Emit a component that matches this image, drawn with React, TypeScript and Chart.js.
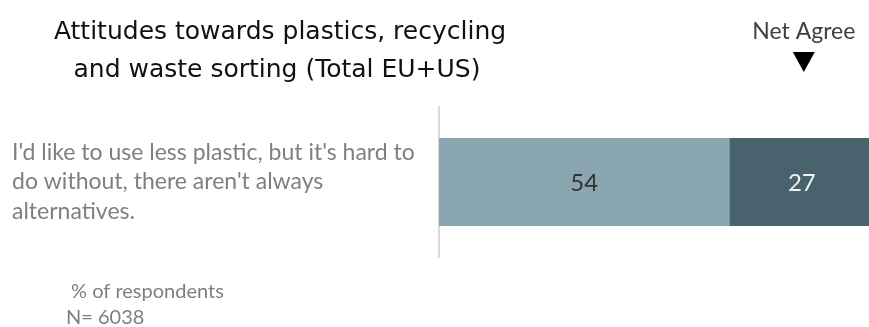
import React, { useEffect, useRef } from "react";
import { Chart, registerables } from "chart.js";

Chart.register(...registerables);

const categories: string[][] = [
  ["I'd like to use less plastic, but it's hard to", "do without, there aren't always", "alternatives."],
];
const seriesNames = ["Agree somewhat", "Agree strongly"];
const somewhatValues = [54];
const stronglyValues = [27];
const seriesColors = ["#8aa6b0", "#48636e"];
const labelColors = ["#333333", "#f2f2f2"];
const titleLines = ["Attitudes towards plastics, recycling", "and waste sorting (Total EU+US)"];
const netLabel = "Net Agree";
const footnotes = ["% of respondents", "N= 6038"];

const overlayPlugin = {
  id: "overlay",
  afterDatasetsDraw(chart: any) {
    const ctx = chart.ctx;
    ctx.save();
    ctx.font = "24px Lato, 'Open Sans', sans-serif";
    ctx.textAlign = "center";
    ctx.textBaseline = "middle";
    chart.data.datasets.forEach((ds: any, i: number) => {
      const meta = chart.getDatasetMeta(i);
      meta.data.forEach((el: any, j: number) => {
        const cx = (el.x + el.base) / 2;
        ctx.fillStyle = labelColors[i];
        ctx.fillText(String(ds.data[j]), cx, el.y + 1);
      });
    });
    ctx.restore();
  },
  afterDraw(chart: any) {
    const ctx = chart.ctx;
    ctx.save();
    // title
    ctx.fillStyle = "#111111";
    ctx.font = "25px 'DejaVu Sans', sans-serif";
    ctx.textAlign = "center";
    ctx.textBaseline = "middle";
    ctx.fillText(titleLines[0], 280, 32);
    ctx.fillText(titleLines[1], 277, 70);
    // net agree marker
    const meta = chart.getDatasetMeta(1);
    const el = meta.data[0];
    const cx = (el.x + el.base) / 2 + 2;
    ctx.fillStyle = "#404040";
    ctx.font = "23px Lato, 'Open Sans', sans-serif";
    ctx.fillText(netLabel, cx, 32);
    ctx.fillStyle = "#000000";
    ctx.beginPath();
    ctx.moveTo(cx - 11, 52);
    ctx.lineTo(cx + 11, 52);
    ctx.lineTo(cx, 72);
    ctx.closePath();
    ctx.fill();
    // footnotes
    ctx.fillStyle = "#7f7f7f";
    ctx.font = "20px Lato, 'Open Sans', sans-serif";
    ctx.textAlign = "left";
    ctx.fillText(footnotes[0], 71, 292);
    ctx.fillText(footnotes[1], 66, 318);
    ctx.restore();
  },
};

export default function App() {
  const ref = useRef<HTMLCanvasElement>(null);
  useEffect(() => {
    if (!ref.current) return;
    const chart = new Chart(ref.current, {
      type: "bar",
      data: {
        labels: categories as any,
        datasets: [
          { label: seriesNames[0], data: somewhatValues, backgroundColor: seriesColors[0], barPercentage: 1, categoryPercentage: 0.587 },
          { label: seriesNames[1], data: stronglyValues, backgroundColor: seriesColors[1], barPercentage: 1, categoryPercentage: 0.587 },
        ],
      },
      options: {
        indexAxis: "y",
        animation: false,
        responsive: false,
        layout: { padding: { left: 12, top: 107, bottom: 70, right: 0 } },
        plugins: { legend: { display: false }, tooltip: { enabled: false }, title: { display: false } },
        scales: {
          x: { stacked: true, display: false, min: 0, max: 80 },
          y: {
            stacked: true,
            grid: { display: false },
            border: { display: true, color: "#d9d9d9", width: 2 },
            ticks: {
              crossAlign: "far",
              color: "#7f7f7f",
              font: { family: "Lato, 'Open Sans', sans-serif", size: 23, lineHeight: 1.3 },
            },
            afterFit: (scale: any) => {
              scale.width = 427;
            },
          },
        },
      },
      plugins: [overlayPlugin],
    });
    return () => chart.destroy();
  }, []);
  return (
    <div style={{ position: "fixed", left: 0, top: 0, width: 869, height: 327, background: "#fff" }}>
      <canvas ref={ref} width={869} height={327} style={{ display: "block" }} />
    </div>
  );
}
